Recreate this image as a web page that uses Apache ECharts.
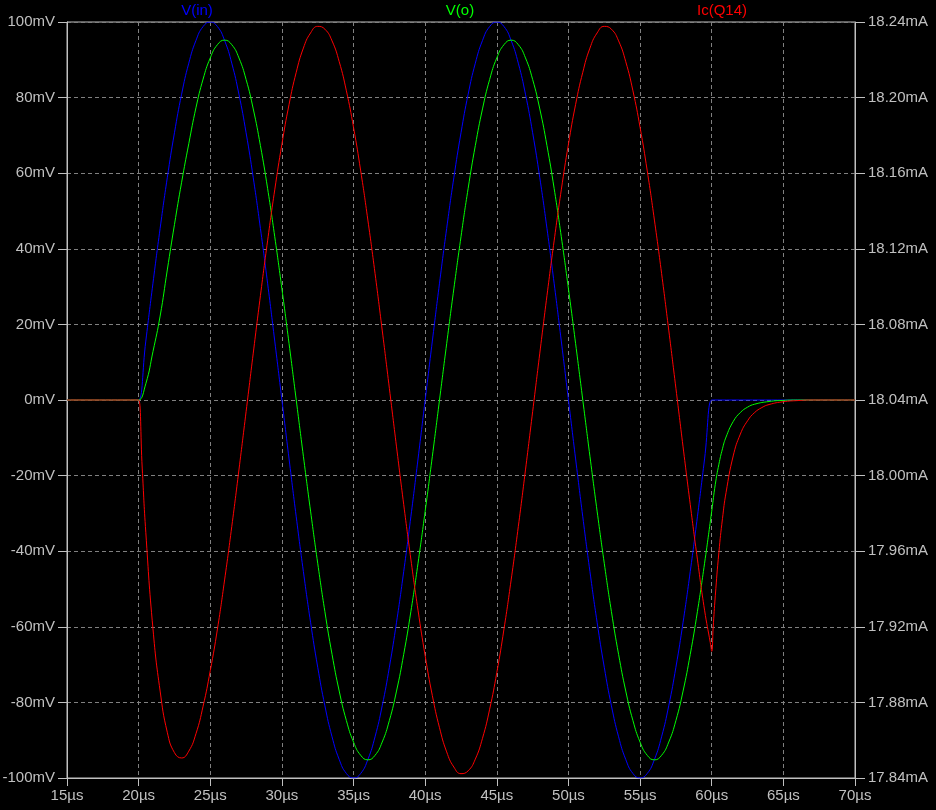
<!DOCTYPE html>
<html>
<head>
<meta charset="utf-8">
<script src="https://cdn.jsdelivr.net/npm/echarts@6/dist/echarts.min.js"></script>
<style>
html,body{margin:0;padding:0;background:#000;}
#chart{width:936px;height:810px;}
</style>
</head>
<body>
<div id="chart"></div>
<script>
// ---- Data (time in µs) ----
const traceNames = ['V(in)', 'V(o)', 'Ic(Q14)'];
const xTicks = [15, 20, 25, 30, 35, 40, 45, 50, 55, 60, 65, 70];

// V(in) in mV
const tIn = [15,19.9,20,20.5,21,21.5,22,22.5,23,23.5,24,24.5,25,25.5,26,26.5,27,27.5,28,28.5,29,29.5,
  30,30.5,31,31.5,32,32.5,33,33.5,34,34.5,35,35.5,36,36.5,37,37.5,38,38.5,39,39.5,
  40,40.5,41,41.5,42,42.5,43,43.5,44,44.5,45,45.5,46,46.5,47,47.5,48,48.5,49,49.5,
  50,50.5,51,51.5,52,52.5,53,53.5,54,54.5,55,55.5,56,56.5,57,57.5,58,58.5,59,59.5,60,60.1,70];
const vIn = [0,0,
  0,15.6,30.9,45.4,58.8,70.7,80.9,89.1,95.1,98.8,100,98.8,95.1,89.1,80.9,70.7,58.8,45.4,30.9,15.6,
  0,-15.6,-30.9,-45.4,-58.8,-70.7,-80.9,-89.1,-95.1,-98.8,-100,-98.8,-95.1,-89.1,-80.9,-70.7,-58.8,-45.4,-30.9,-15.6,
  0,15.6,30.9,45.4,58.8,70.7,80.9,89.1,95.1,98.8,100,98.8,95.1,89.1,80.9,70.7,58.8,45.4,30.9,15.6,
  0,-15.6,-30.9,-45.4,-58.8,-70.7,-80.9,-89.1,-95.1,-98.8,-100,-98.8,-95.1,-89.1,-80.9,-70.7,-58.8,-45.4,-30.9,-15.6,
  0,0,0];

// V(o) in mV
const tOut = [15,19.9,20,20.5,21,21.5,22,22.5,23,23.5,24,24.5,25,25.5,26,26.5,27,27.5,28,28.5,29,29.5,
  30,30.5,31,31.5,32,32.5,33,33.5,34,34.5,35,35.5,36,36.5,37,37.5,38,38.5,39,39.5,
  40,40.5,41,41.5,42,42.5,43,43.5,44,44.5,45,45.5,46,46.5,47,47.5,48,48.5,49,49.5,
  50,50.5,51,51.5,52,52.5,53,53.5,54,54.5,55,55.5,56,56.5,57,57.5,58,58.5,59,59.5,60,
  60.25,60.5,60.75,61,61.5,62,62.5,63,64,65,66,70];
const vOut = [0,0,
  0,4.3,12.8,22.2,34.4,46.4,57.6,67.8,77.3,84.9,90.5,94.0,95.2,
  94.0,90.5,84.8,77.0,67.3,56.0,43.2,29.4,14.9,0,
  -14.9,-29.4,-43.2,-56.0,-67.3,-77.0,-84.8,-90.5,-94.0,-95.2,
  -94.0,-90.5,-84.8,-77.0,-67.3,-56.0,-43.2,-29.4,-14.9,0,
  14.9,29.4,43.2,56.0,67.3,77.0,84.8,90.5,94.0,95.2,
  94.0,90.5,84.8,77.0,67.3,56.0,43.2,29.4,14.9,0,
  -14.9,-29.4,-43.2,-56.0,-67.3,-77.0,-84.8,-90.5,-94.0,-95.2,
  -94.0,-90.5,-84.8,-77.0,-67.3,-56.0,-43.2,-29.4,
  -22.3,-17.0,-12.9,-9.8,-5.7,-3.3,-1.9,-1.1,-0.4,-0.1,0,0];

// Ic(Q14) in mA
const tIc = [15,19.9,20,20.25,20.5,21,21.5,22,22.5,23,23.5,24,24.5,25,25.5,26,26.5,27,27.5,28,28.5,29,29.5,
  30,30.5,31,31.5,32,32.5,33,33.5,34,34.5,35,35.5,36,36.5,37,37.5,38,38.5,39,39.5,
  40,40.5,41,41.5,42,42.5,43,43.5,44,44.5,45,45.5,46,46.5,47,47.5,48,48.5,49,49.5,
  50,50.5,51,51.5,52,52.5,53,53.5,54,54.5,55,55.5,56,56.5,57,57.5,58,58.5,59,59.5,
  59.9,60,60.1,60.25,60.5,60.75,61,61.5,62,62.5,63,63.5,64,65,66,67,70];
const icQ14 = [18.04,18.04,18.04,18.004,
  17.970,17.919,17.886,17.8642,17.8534,17.8506,17.8542,17.8634,17.878,17.8968,17.9188,17.9448,17.973,18.003,18.0338,
  18.0648,18.0952,18.1242,18.1512,18.1754,18.1964,18.2134,18.2262,18.2342,18.2377,18.2362,18.23,18.219,18.2036,
  18.1842,18.1612,18.1352,18.107,18.077,18.0462,18.0152,17.9848,17.9558,17.9288,17.9046,17.8836,17.8666,17.8538,
  17.8458,17.8423,17.8438,17.85,17.861,17.8764,17.8958,17.9188,17.9448,17.973,18.003,18.0338,18.0648,18.0952,
  18.1242,18.1512,18.1754,18.1964,18.2134,18.2262,18.2342,18.2377,18.2362,18.23,18.219,18.2036,18.1842,18.1612,
  18.1352,18.107,18.077,18.0462,18.0152,17.9848,17.9558,17.9288,
  17.9116,17.907,17.9196,17.9364,17.9594,17.9772,17.991,18.0104,18.022,18.029,18.0334,18.036,18.0376,18.0391,18.0397,18.04,18.04];

const traceColors = ['#0000ff', '#00ff00', '#ff0000'];
const FONT = 'Liberation Sans, Arial, sans-serif';
const GRAY = '#c0c0c0';

function pairs(t, v) { return t.map((x, i) => [x, v[i]]); }

const chart = echarts.init(document.getElementById('chart'), null, {renderer: 'canvas'});

const axisLabelStyle = {color: GRAY, fontSize: 15, fontFamily: FONT};
const dashed = {color: '#808080', width: 1, type: [4, 3]};

chart.setOption({
  backgroundColor: '#000000',
  animation: false,
  grid: {left: 67, right: 81, top: 22, bottom: 32, show: true, borderColor: GRAY, borderWidth: 1,
         containLabel: false, outerBoundsMode: 'none'},
  graphic: [
    {type: 'text', x: 197, y: 3, style: {text: traceNames[0], fill: traceColors[0], font: '15px ' + FONT, textAlign: 'center'}},
    {type: 'text', x: 460, y: 3, style: {text: traceNames[1], fill: traceColors[1], font: '15px ' + FONT, textAlign: 'center'}},
    {type: 'text', x: 722, y: 3, style: {text: traceNames[2], fill: traceColors[2], font: '15px ' + FONT, textAlign: 'center'}}
  ],
  xAxis: {
    type: 'value', min: xTicks[0], max: xTicks[xTicks.length - 1], interval: 5,
    axisLine: {show: true, onZero: false, lineStyle: {color: GRAY}},
    axisTick: {show: true, inside: false, length: 8, lineStyle: {color: GRAY}},
    axisLabel: Object.assign({margin: 10, formatter: v => v + 'µs'}, axisLabelStyle),
    splitLine: {show: true, lineStyle: dashed}
  },
  yAxis: [
    {
      type: 'value', min: -100, max: 100, interval: 20, position: 'left',
      axisLine: {show: true, onZero: false, lineStyle: {color: GRAY}},
      axisTick: {show: true, inside: false, length: 9, lineStyle: {color: GRAY}},
      axisLabel: Object.assign({margin: 12, formatter: v => v + 'mV'}, axisLabelStyle),
      splitLine: {show: true, lineStyle: dashed}
    },
    {
      type: 'value', min: 17.84, max: 18.24, interval: 0.04, position: 'right',
      axisLine: {show: true, onZero: false, lineStyle: {color: GRAY}},
      axisTick: {show: true, inside: false, length: 10, lineStyle: {color: GRAY}},
      axisLabel: Object.assign({margin: 13, formatter: v => v.toFixed(2) + 'mA'}, axisLabelStyle),
      splitLine: {show: false}
    }
  ],
  series: [
    {name: traceNames[0], type: 'line', yAxisIndex: 0, data: pairs(tIn, vIn), showSymbol: false, smooth: 0.5,
     lineStyle: {color: traceColors[0], width: 1}, itemStyle: {color: traceColors[0]}},
    {name: traceNames[1], type: 'line', yAxisIndex: 0, data: pairs(tOut, vOut), showSymbol: false, smooth: 0.5,
     lineStyle: {color: traceColors[1], width: 1}, itemStyle: {color: traceColors[1]}},
    {name: traceNames[2], type: 'line', yAxisIndex: 1, data: pairs(tIc, icQ14), showSymbol: false, smooth: 0.5,
     lineStyle: {color: traceColors[2], width: 1}, itemStyle: {color: traceColors[2]}}
  ]
});
</script>
</body>
</html>
